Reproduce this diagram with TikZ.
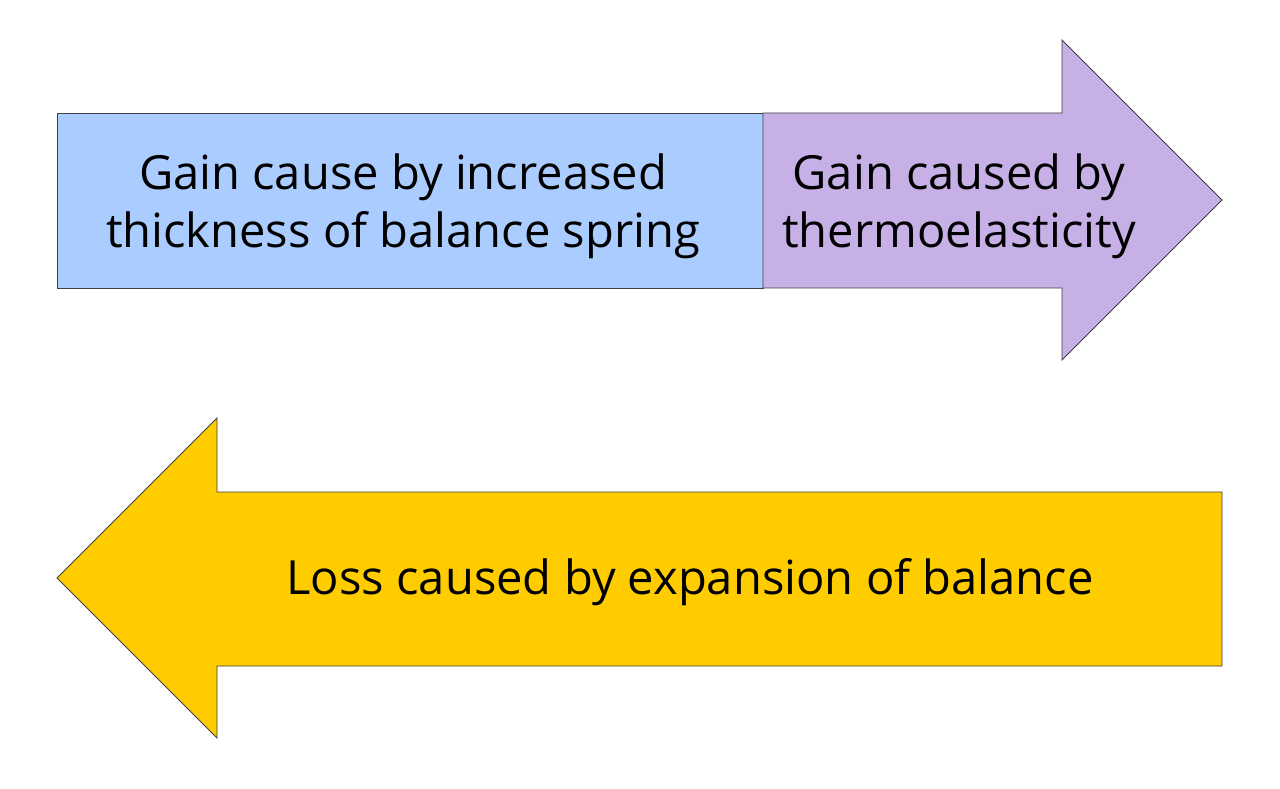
\documentclass[tikz,border=0pt]{standalone}
\usepackage{fontspec}
\setmainfont{Open Sans}
\usepackage{tikz}
\usetikzlibrary{positioning}
\definecolor{springblue}{RGB}{170,204,255}
\definecolor{elasticpurple}{RGB}{198,176,230}
\definecolor{balanceyellow}{RGB}{255,204,0}

\begin{document}
\begin{tikzpicture}[x=0.02cm, y=0.02cm,
    part/.style={draw=black!75, line width=0.5pt},
    label/.style={align=center, font=\fontsize{26.8}{33}\selectfont, inner sep=0pt}]
\useasboundingbox (0,0) rectangle (1280,788);

% Gain arrow (pointing right)
\filldraw[part, fill=springblue] (57,500) rectangle (763,675);
\filldraw[part, fill=elasticpurple] (763,675) -- (1062,675) -- (1062,748) -- (1222,588)
    -- (1062,428) -- (1062,500) -- (763,500) -- cycle;

\node[label] (spring) at (403,582) {Gain cause by increased\\thickness of balance spring};
\node[label] (thermo) at (959,582) {Gain caused by\\thermoelasticity};

% Loss arrow (pointing left)
\filldraw[part, fill=balanceyellow] (1222,296) -- (217,296) -- (217,370) -- (57,210)
    -- (217,50) -- (217,122) -- (1222,122) -- cycle;

\node[label] (loss) at (690,206) {Loss caused by expansion of balance};

\end{tikzpicture}
\end{document}
